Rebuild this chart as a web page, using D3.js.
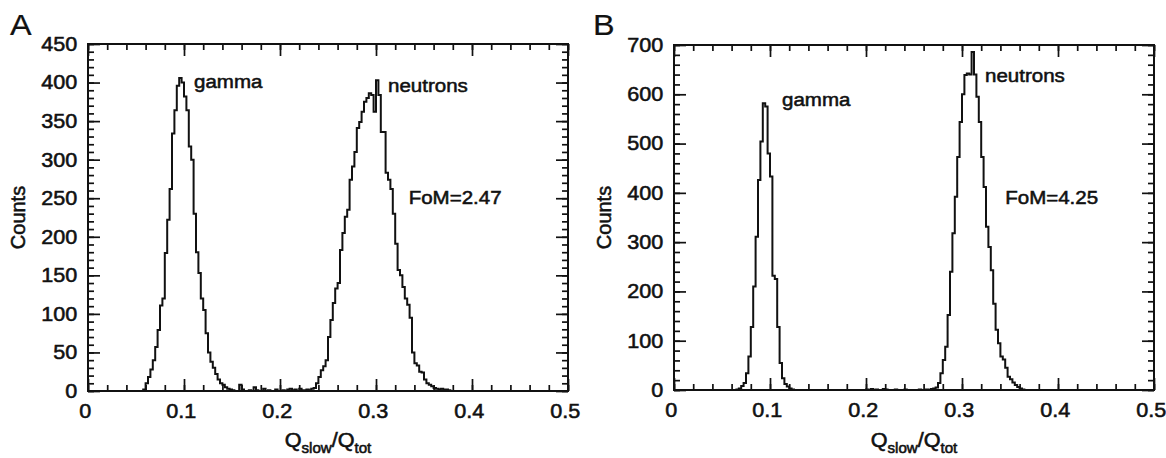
<!DOCTYPE html>
<meta charset="utf-8">
<html>
<head>
<script src="https://d3js.org/d3.v7.min.js"></script>
<style>
  body { margin: 0; background: #fff; }
  svg text { font-family: "Liberation Sans", Arial, sans-serif; fill: #111; stroke: #111; stroke-width: 0.55px; }
</style>
</head>
<body>
<svg id="chart" width="1166" height="458"></svg>
<script>
// bins of Qslow/Qtot, 0.0025 wide, from 0 to 0.5
var binWidth = 0.0025;
var xTicks = [0, 0.1, 0.2, 0.3, 0.4, 0.5];
var yTicksA = [0, 50, 100, 150, 200, 250, 300, 350, 400, 450];
var yTicksB = [0, 100, 200, 300, 400, 500, 600, 700];

// panel A counts, each list starts at the given bin edge
var gammaA_start = 0.0575;
var gammaA = [2, 10, 18, 28, 40, 57, 79, 111, 120, 179, 222, 262, 334, 364, 396, 406, 400, 382, 364, 317,
              300, 230, 180, 153, 120, 105, 75, 50, 38, 30, 22, 15, 10, 8, 5, 3, 2];
var tailA_start = 0.15;
var tailA = [1, 0, 0, 8, 2, 0, 0, 1, 0, 5, 1, 0, 0, 3, 0, 1, 0, 0, 2, 0, 0, 1, 0, 2, 3, 1, 2, 0, 3, 1];
var neutronA_start = 0.225;
var neutronA = [1, 2, 1, 3, 4, 10, 18, 27, 32, 40, 70, 92, 114, 133, 140, 183, 205, 226, 235, 274,
                291, 310, 341, 349, 362, 375, 380, 386, 384, 362, 403, 384, 336, 336, 283, 274, 262, 230, 191, 157,
                150, 135, 120, 112, 95, 50, 36, 33, 25, 24, 15, 10, 8, 6, 4, 3, 2, 3, 2, 2, 1];

// panel B counts
var gammaB_start = 0.065;
var gammaB = [1, 3, 8, 14, 34, 68, 128, 210, 311, 426, 504, 582, 575, 480, 433, 232, 225, 128, 55, 24, 12, 7, 3, 1];
var tailB_start = 0.2;
var tailB = [1, 0, 2, 0, 1, 0, 0, 2, 1, 0, 0, 0, 1, 0, 0, 0, 1, 0, 0, 0, 0, 0, 1, 0, 0];
var neutronB_start = 0.2625;
var neutronB = [1, 0, 2, 3, 5, 14, 34, 61, 88, 152, 240, 318, 392, 473, 544, 600, 639, 642, 640, 686,
                640, 595, 544, 473, 412, 331, 290, 243, 175, 122, 95, 68, 62, 45, 27, 22, 15, 10, 6, 3, 1];

var annotA = [["gamma", 0.1104, 393], ["neutrons", 0.3125, 388], ["FoM=2.47", 0.334, 242]];
var annotB = [["gamma", 0.1125, 576], ["neutrons", 0.324, 625], ["FoM=4.25", 0.345, 377]];

function fillBins(segments) {
    var bins = new Array(200).fill(0);
    segments.forEach(function(s) {
        var k0 = Math.round(s[0] / binWidth);
        for (var i = 0; i < s[1].length; i++) bins[k0 + i] = s[1][i];
    });
    return bins;
}

var svg = d3.select("#chart");
var stretch = "scale(1.08,1)";

function drawPanel(cfg) {
    var w = cfg.right - cfg.left, h = cfg.bottom - cfg.top;
    var x = d3.scaleLinear().domain([0, 0.5]).range([0, w]);
    var y = d3.scaleLinear().domain([0, cfg.yMax]).range([h, 0]);
    var g = svg.append("g").attr("transform", "translate(" + cfg.left + "," + cfg.top + ")");

    var xMinor = d3.range(0, 0.5001, 0.02);
    var yMinor = d3.range(0, cfg.yMax + 0.1, cfg.yMinorStep);
    var fmt = function(d) { return d === 0 ? "0" : d3.format(".1f")(d); };

    function axis(gen, tr, major, minor, labels, pad) {
        var a = g.append("g").attr("transform", tr);
        a.call(gen.tickValues(minor).tickSize(-6).tickFormat(""));
        var b = g.append("g").attr("transform", tr);
        b.call(gen.tickValues(major).tickSize(-12).tickPadding(pad || 3).tickFormat(labels || ""));
        [a, b].forEach(function(s) {
            s.select(".domain").remove();
            s.selectAll("line").attr("stroke", "#111").attr("stroke-width", 1.7);
            s.attr("font-family", null).attr("font-size", null);
        });
        b.selectAll("text").style("font-size", "20px").attr("transform", stretch);
        return b;
    }
    axis(d3.axisBottom(x), "translate(0," + h + ")", xTicks, xMinor, fmt, 13)
        .selectAll("text").attr("dx", -3);
    axis(d3.axisTop(x), "translate(0,0)", xTicks, xMinor);
    axis(d3.axisLeft(y), "translate(0,0)", cfg.yTicks, yMinor, d3.format("d"), 10);
    axis(d3.axisRight(y), "translate(" + w + ",0)", cfg.yTicks, yMinor);

    // histogram as a step line
    var pts = cfg.bins.map(function(c, i) { return [i * binWidth, c]; });
    pts.push([0.5, cfg.bins[cfg.bins.length - 1]]);
    var line = d3.line()
        .x(function(d) { return x(d[0]); })
        .y(function(d) { return y(d[1]); })
        .curve(d3.curveStepAfter);
    g.append("path").attr("d", line(pts))
        .attr("fill", "none").attr("stroke", "#111").attr("stroke-width", 2);

    g.append("rect").attr("width", w).attr("height", h)
        .attr("fill", "none").attr("stroke", "#111").attr("stroke-width", 2);

    cfg.annot.forEach(function(a) {
        g.append("text")
            .attr("transform", "translate(" + x(a[1]) + "," + y(a[2]) + ") " + stretch)
            .style("font-size", "19px").text(a[0]);
    });

    // axis titles
    g.append("text")
        .attr("transform", "translate(-63," + (h / 2) + ") rotate(-90)")
        .attr("text-anchor", "middle").style("font-size", "20px").text("Counts");
    var t = g.append("text")
        .attr("transform", "translate(" + (w / 2) + "," + (447 - cfg.top) + ") " + stretch)
        .attr("text-anchor", "middle").style("font-size", "20px");
    t.append("tspan").text("Q");
    t.append("tspan").attr("dy", 6).style("font-size", "14px").text("slow");
    t.append("tspan").attr("dy", -6).text("/Q");
    t.append("tspan").attr("dy", 6).style("font-size", "14px").text("tot");

    svg.append("text")
        .attr("transform", "translate(" + cfg.letterX + ",35) " + stretch)
        .style("font-size", "30px").style("stroke-width", "0.2px").text(cfg.letter);
}

drawPanel({
    left: 88, top: 44, right: 568, bottom: 391, yMax: 450, yTicks: yTicksA, yMinorStep: 10,
    bins: fillBins([[gammaA_start, gammaA], [tailA_start, tailA], [neutronA_start, neutronA]]),
    annot: annotA, letter: "A", letterX: 10
});
drawPanel({
    left: 674, top: 45, right: 1154, bottom: 390, yMax: 700, yTicks: yTicksB, yMinorStep: 20,
    bins: fillBins([[gammaB_start, gammaB], [tailB_start, tailB], [neutronB_start, neutronB]]),
    annot: annotB, letter: "B", letterX: 593
});
</script>
</body>
</html>
